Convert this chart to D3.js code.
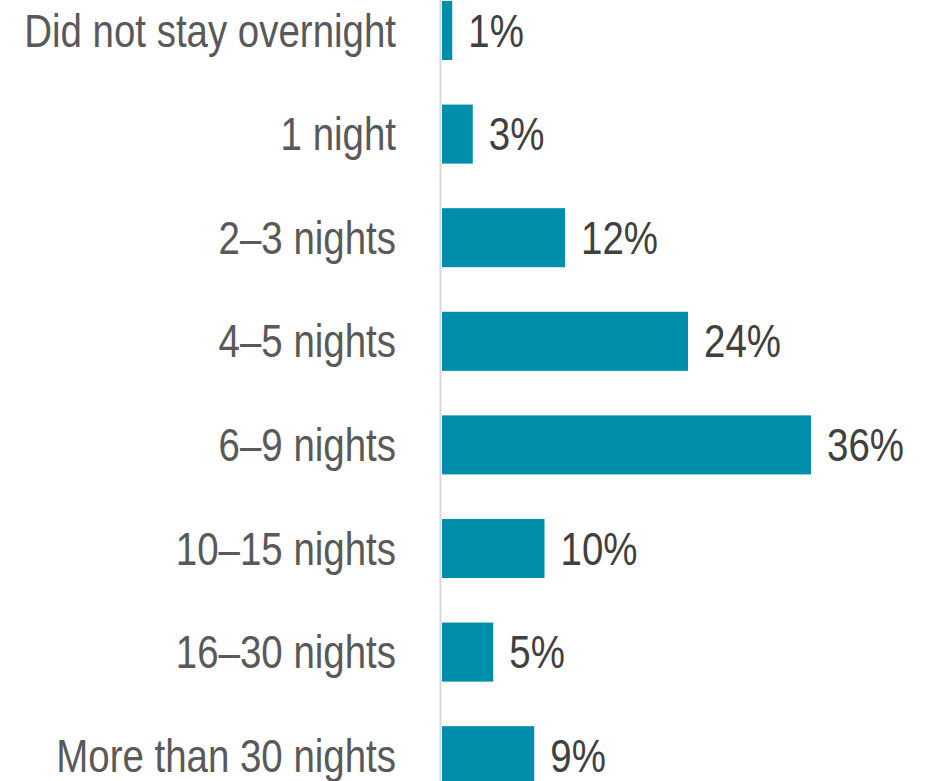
<!DOCTYPE html>
<html>
<head>
<meta charset="utf-8">
<script src="https://cdn.jsdelivr.net/npm/d3@7"></script>
<style>
  html, body { margin: 0; padding: 0; background: #ffffff; }
  svg { display: block; }
  text { font-family: "Liberation Sans", Arial, sans-serif; }
</style>
</head>
<body>
<svg id="chart" width="935" height="781"></svg>
<script>
const categories = ["Did not stay overnight", "1 night", "2–3 nights", "4–5 nights", "6–9 nights", "10–15 nights", "16–30 nights", "More than 30 nights"];
const values = [1, 3, 12, 24, 36, 10, 5, 9];
const valueLabels = ["1%", "3%", "12%", "24%", "36%", "10%", "5%", "9%"];

const svg = d3.select("#chart");
const W = 935, H = 781;
const x0 = 442;
const narrow = 0.836;

const x = d3.scaleLinear().domain([0, 36]).range([x0, 811]);
const y = d3.scaleBand().domain(categories).range([-21.3, 807.5]).paddingInner(0.43).paddingOuter(0.215);

// bars
svg.selectAll("rect.bar").data(categories).join("rect")
  .attr("class", "bar")
  .attr("x", x(0))
  .attr("y", d => y(d))
  .attr("width", (d, i) => x(values[i]) - x(0))
  .attr("height", y.bandwidth())
  .attr("fill", "#008FAB");

// axis line
svg.append("line")
  .attr("x1", 440.5).attr("x2", 440.5)
  .attr("y1", 0).attr("y2", H)
  .attr("stroke", "#D9D9D9").attr("stroke-width", 2);

// category labels
svg.selectAll("g.cat").data(categories).join("g")
  .attr("class", "cat")
  .attr("transform", d => `translate(396,${y(d) + y.bandwidth() / 2}) scale(${narrow},1)`)
  .append("text")
  .attr("dy", "0.35em")
  .attr("text-anchor", "end")
  .attr("font-size", 46)
  .attr("fill", "#595959")
  .text(d => d);

// value labels
svg.selectAll("g.val").data(categories).join("g")
  .attr("class", "val")
  .attr("transform", (d, i) => `translate(${x(values[i]) + 16},${y(d) + y.bandwidth() / 2}) scale(${narrow},1)`)
  .append("text")
  .attr("dy", "0.35em")
  .attr("text-anchor", "start")
  .attr("font-size", 46)
  .attr("fill", "#404040")
  .text((d, i) => valueLabels[i]);
</script>
</body>
</html>
